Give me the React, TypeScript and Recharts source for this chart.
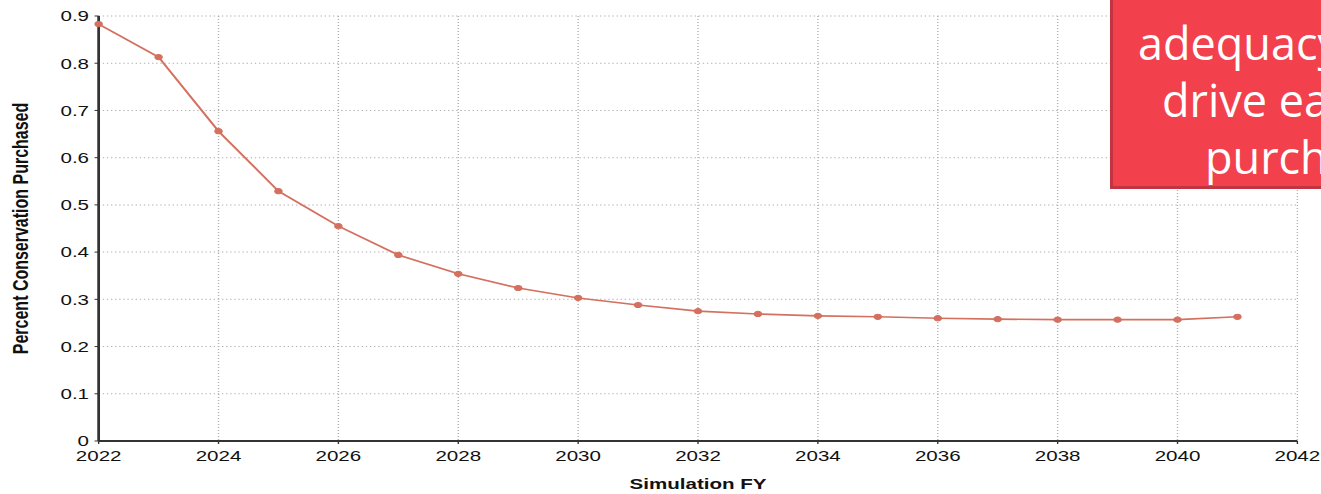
import { CartesianGrid, Line, LineChart, XAxis, YAxis } from 'recharts'

const years = [
  2022, 2023, 2024, 2025, 2026, 2027, 2028, 2029, 2030, 2031,
  2032, 2033, 2034, 2035, 2036, 2037, 2038, 2039, 2040, 2041,
]
const purchased = [
  0.883, 0.813, 0.656, 0.529, 0.455, 0.394, 0.354, 0.324, 0.303, 0.288,
  0.275, 0.269, 0.265, 0.263, 0.26, 0.258, 0.257, 0.257, 0.257, 0.263,
]
const xTicks = [2022, 2024, 2026, 2028, 2030, 2032, 2034, 2036, 2038, 2040, 2042]
const yTicks = [0, 0.1, 0.2, 0.3, 0.4, 0.5, 0.6, 0.7, 0.8, 0.9]
const calloutLines = [
  { text: 'resource', left: 1206, top: -46 },
  { text: 'adequacy', left: 1138, top: 14 },
  { text: 'drive early', left: 1162, top: 71 },
  { text: 'purchases', left: 1205, top: 128 },
]

const rows = years.map((year, i) => ({ year, value: purchased[i] }))

// the source picture is stretched sideways, so the chart is drawn narrow and widened
const STRETCH = 1.37
const innerWidth = Math.round(1321 / STRETCH)

const font = 'Liberation Sans, Arial, sans-serif'
const tickStyle = { fill: '#111', fontSize: 15, fontFamily: font }

export default function App() {
  return (
    <div
      style={{
        position: 'fixed',
        left: 0,
        top: 0,
        width: 1321,
        height: 494,
        background: '#fff',
        overflow: 'hidden',
      }}
    >
      <div style={{ width: innerWidth, height: 494, transform: `scaleX(${STRETCH})`, transformOrigin: '0 0' }}>
        <LineChart width={innerWidth} height={494} data={rows} margin={{ top: 16, right: 17, bottom: 0, left: 0 }}>
          <CartesianGrid stroke="#b0b0b0" strokeDasharray="1 2" />
          <XAxis
            dataKey="year"
            type="number"
            domain={[2022, 2042]}
            ticks={xTicks}
            height={53}
            axisLine={{ stroke: '#333', strokeWidth: 2 }}
            tickLine={{ stroke: '#333' }}
            tickSize={3}
            tickMargin={6}
            tick={tickStyle}
            label={{
              value: 'Simulation FY',
              position: 'insideBottom',
              offset: 5,
              style: { fontWeight: 'bold', fontSize: 15, fill: '#111', fontFamily: font },
            }}
          />
          <YAxis
            type="number"
            domain={[0, 0.9]}
            ticks={yTicks}
            width={72}
            axisLine={{ stroke: '#333', strokeWidth: 2 }}
            tickLine={{ stroke: '#333' }}
            tickSize={3}
            tickMargin={4}
            tick={tickStyle}
            label={{
              value: 'Percent Conservation Purchased',
              angle: -90,
              position: 'center',
              dx: -21.5,
              style: { fontWeight: 'bold', fontSize: 16, fill: '#111', fontFamily: font },
            }}
          />
          <Line
            dataKey="value"
            stroke="#d4705f"
            strokeWidth={1.6}
            dot={{ r: 2.6, fill: '#d4705f', stroke: '#d4705f', strokeWidth: 1 }}
            activeDot={false}
            isAnimationActive={false}
            type="linear"
          />
        </LineChart>
      </div>
      <div
        style={{
          position: 'absolute',
          left: 1110,
          top: -10,
          width: 260,
          height: 196,
          background: '#f2404d',
          borderLeft: '3px solid #c2343f',
          borderBottom: '3px solid #c2343f',
        }}
      />
      {calloutLines.map((line) => (
        <div
          key={line.text}
          style={{
            position: 'absolute',
            left: line.left,
            top: line.top,
            fontSize: 45,
            lineHeight: '57px',
            color: '#fff',
            whiteSpace: 'nowrap',
            fontFamily: 'Open Sans, sans-serif',
          }}
        >
          {line.text}
        </div>
      ))}
    </div>
  )
}
